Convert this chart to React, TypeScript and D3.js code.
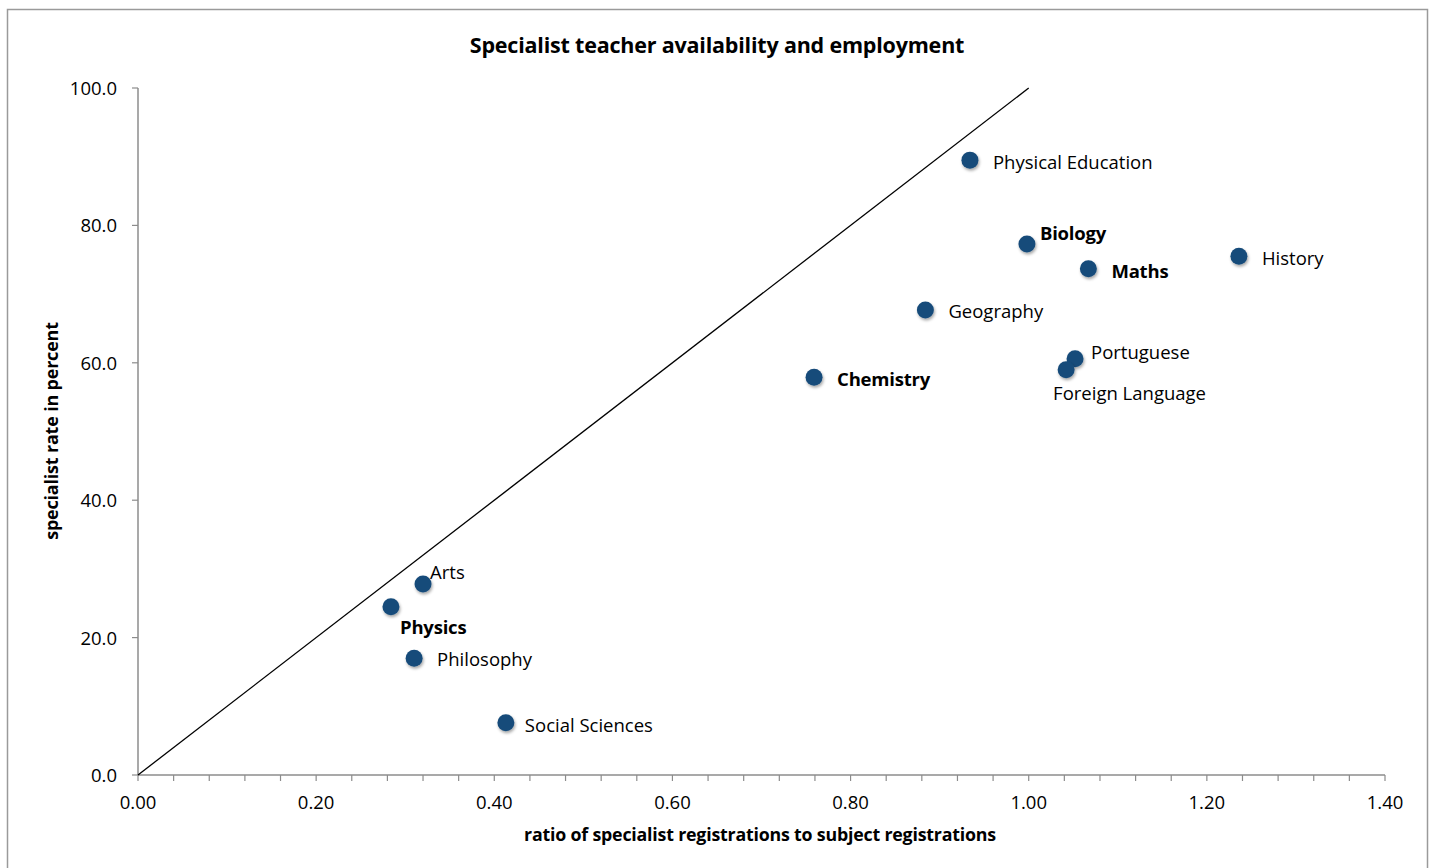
import * as d3 from 'd3'

const subjects = [
  'Physical Education',
  'Biology',
  'Maths',
  'History',
  'Geography',
  'Portuguese',
  'Foreign Language',
  'Chemistry',
  'Arts',
  'Physics',
  'Philosophy',
  'Social Sciences',
]
const ratios = [0.934, 0.998, 1.067, 1.236, 0.884, 1.052, 1.042, 0.759, 0.32, 0.284, 0.31, 0.413]
const specialistRates = [89.5, 77.3, 73.7, 75.5, 67.7, 60.6, 59.0, 57.9, 27.8, 24.5, 17.0, 7.6]
const boldSubjects = ['Biology', 'Maths', 'Chemistry', 'Physics']
const xTicks = [0, 0.2, 0.4, 0.6, 0.8, 1.0, 1.2, 1.4]
const yTicks = [0, 20, 40, 60, 80, 100]

// label offsets relative to the marker (px)
const labelOffsets: Record<string, [number, number]> = {
  'Physical Education': [23, 2],
  Biology: [13, -11],
  Maths: [23, 2],
  History: [23, 2],
  Geography: [23, 1],
  Portuguese: [16, -7],
  'Foreign Language': [-13, 23],
  Chemistry: [23, 2],
  Arts: [7, -12],
  Physics: [9, 20],
  Philosophy: [23, 1],
  'Social Sciences': [19, 2],
}

const W = 1434
const H = 868
const FONT = '"Open Sans", Lato, sans-serif'

export default function App() {
  const x = d3.scaleLinear().domain([0, 1.4]).range([138, 1385])
  const y = d3.scaleLinear().domain([0, 100]).range([775, 88])
  const minorX = d3.range(0, 1.4001, 0.04)
  const axisColor = '#8c8c8c'

  const points = subjects.map((s, i) => ({ name: s, rx: ratios[i], ry: specialistRates[i] }))
  const diag = d3.line<[number, number]>().x((d) => x(d[0])).y((d) => y(d[1]))

  return (
    <svg
      width={W}
      height={H}
      style={{ position: 'absolute', left: 0, top: 0, background: '#fff' }}
      fontFamily={FONT}
    >
      <defs>
        <filter id="shadow" x="-50%" y="-50%" width="200%" height="200%">
          <feDropShadow dx="1" dy="2" stdDeviation="1.5" floodColor="#000" floodOpacity="0.35" />
        </filter>
      </defs>
      <rect x={7.5} y={9.5} width={1420} height={870} fill="#fff" stroke="#9a9a9a" strokeWidth={1.5} />

      <text x={717} y={53} textAnchor="middle" fontWeight="bold" fontSize={21.5} fill="#000" letterSpacing={-0.2}>
        Specialist teacher availability and employment
      </text>

      {/* x axis */}
      <line x1={x(0)} x2={x(1.4)} y1={y(0)} y2={y(0)} stroke={axisColor} strokeWidth={1.5} />
      {minorX.map((t) => (
        <line key={t} x1={x(t)} x2={x(t)} y1={y(0)} y2={y(0) + 6} stroke={axisColor} strokeWidth={1.2} />
      ))}
      {xTicks.map((t) => (
        <text key={t} x={x(t)} y={y(0) + 34} textAnchor="middle" fontSize={18.5} fill="#000">
          {t.toFixed(2)}
        </text>
      ))}
      <text x={760} y={841} textAnchor="middle" fontWeight="bold" fontSize={17.8} fill="#000" letterSpacing={-0.2}>
        ratio of specialist registrations to subject registrations
      </text>

      {/* y axis */}
      <line x1={x(0)} x2={x(0)} y1={y(0)} y2={y(100)} stroke={axisColor} strokeWidth={1.5} />
      {yTicks.map((t) => (
        <g key={t}>
          <line x1={x(0) - 6} x2={x(0)} y1={y(t)} y2={y(t)} stroke={axisColor} strokeWidth={1.2} />
          <text x={117} y={y(t) + 7} textAnchor="end" fontSize={18.5} fill="#000">
            {t.toFixed(1)}
          </text>
        </g>
      ))}
      <text
        transform={`translate(58,${431}) rotate(-90)`}
        textAnchor="middle"
        fontWeight="bold"
        fontSize={18}
        fill="#000"
        letterSpacing={-0.2}
      >
        specialist rate in percent
      </text>

      {/* diagonal reference line */}
      <path d={diag([[0, 0], [1.0, 100]]) ?? ''} stroke="#000" strokeWidth={1.3} fill="none" />

      {points.map((p) => {
        const [dx, dy] = labelOffsets[p.name]
        const bold = boldSubjects.includes(p.name)
        return (
          <g key={p.name} transform={`translate(${x(p.rx)},${y(p.ry)})`}>
            <circle r={8.5} fill="#174b7a" filter="url(#shadow)" />
            <text
              x={dx}
              y={dy + 7}
              fontSize={18.5}
              fontWeight={bold ? 'bold' : 'normal'}
              fill="#000"
              letterSpacing={bold ? -0.2 : 0}
            >
              {p.name}
            </text>
          </g>
        )
      })}
    </svg>
  )
}
